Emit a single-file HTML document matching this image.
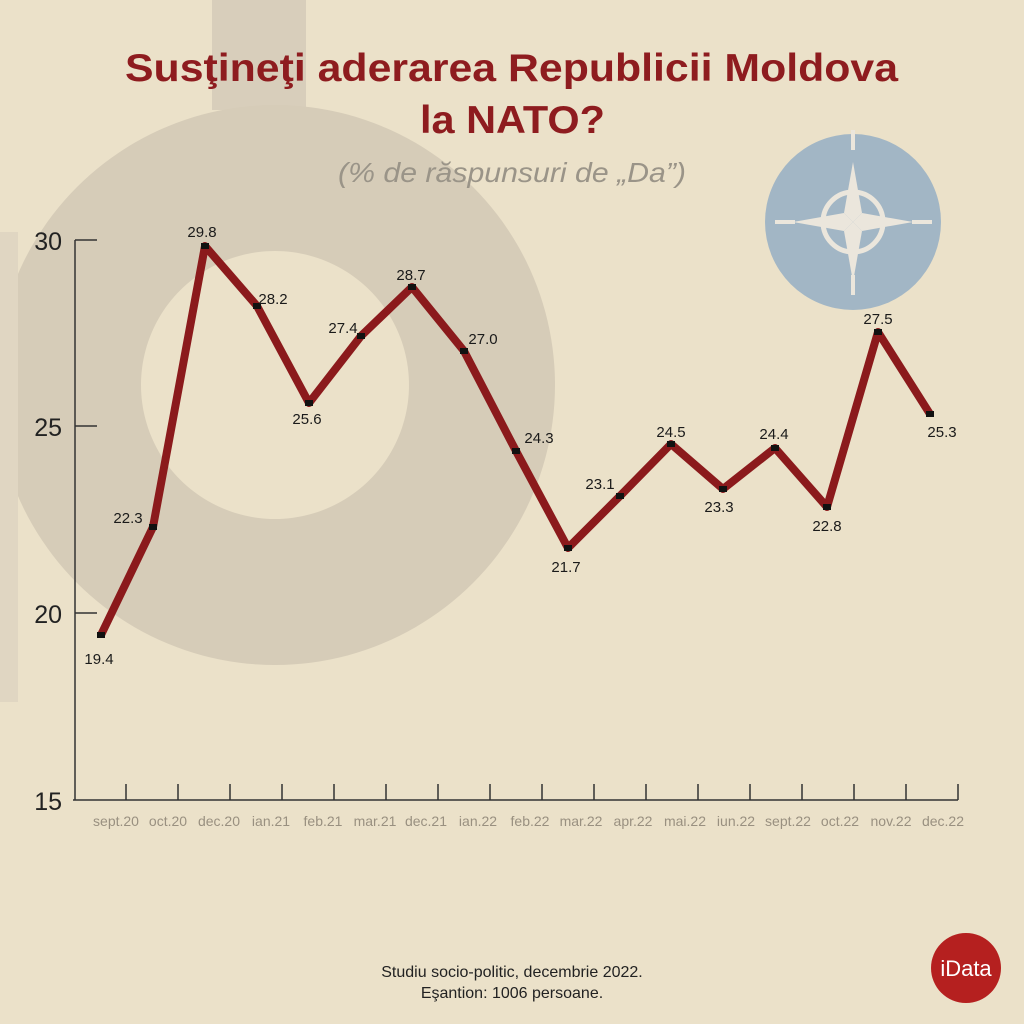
<!DOCTYPE html>
<html><head><meta charset="utf-8"><style>
html,body{margin:0;padding:0;background:#ebe1c9;}
svg{display:block;}
text{font-family:"Liberation Sans",sans-serif;}
</style></head><body>
<svg width="1024" height="1024" viewBox="0 0 1024 1024" xmlns="http://www.w3.org/2000/svg">
<rect width="1024" height="1024" fill="#ebe1c9"/>
<rect x="212" y="0" width="94" height="110" fill="#d8cebb"/>
<path d="M275 105 A280 280 0 1 0 275.01 105 Z M275 251 A134 134 0 1 1 274.99 251 Z" fill="#d6ccb8" fill-rule="evenodd"/>
<rect x="0" y="232" width="18" height="470" fill="#e0d6c2"/>
<text x="125" y="81" textLength="773" lengthAdjust="spacingAndGlyphs" font-size="39" font-weight="bold" fill="#8e1c1f">Susţineţi aderarea Republicii Moldova</text>
<text x="420" y="133" textLength="185" lengthAdjust="spacingAndGlyphs" font-size="39" font-weight="bold" fill="#8e1c1f">la NATO?</text>
<text x="338" y="182" textLength="348" lengthAdjust="spacingAndGlyphs" font-size="28" font-style="italic" fill="#9a9488">(% de răspunsuri de „Da”)</text>
<circle cx="853" cy="222" r="88" fill="#a2b6c5"/>
<g fill="#ebe6dc" stroke="none">
<polygon points="853,162 862,213 853,222 844,213"/>
<polygon points="853,282 862,231 853,222 844,231"/>
<polygon points="793,222 844,213 853,222 844,231"/>
<polygon points="913,222 862,213 853,222 862,231"/>
<circle cx="853" cy="222" r="30" fill="none" stroke="#ebe6dc" stroke-width="5"/>
<rect x="851" y="130" width="4" height="20"/><rect x="851" y="275" width="4" height="20"/>
<rect x="775" y="220" width="20" height="4"/><rect x="912" y="220" width="20" height="4"/>
</g>
<g stroke="#333" stroke-width="1.5" fill="none">
<line x1="75" y1="240" x2="75" y2="800"/>
<line x1="75" y1="240" x2="97" y2="240"/>
<line x1="75" y1="426" x2="97" y2="426"/>
<line x1="75" y1="613" x2="97" y2="613"/>
<line x1="73" y1="800" x2="958" y2="800"/>
<path d="M126 800V784M178 800V784M230 800V784M282 800V784M334 800V784M386 800V784M438 800V784M490 800V784M542 800V784M594 800V784M646 800V784M698 800V784M750 800V784M802 800V784M854 800V784M906 800V784M958 800V784"/>
</g>
<g font-size="25" fill="#222" text-anchor="end">
<text x="62" y="250">30</text><text x="62" y="436">25</text><text x="62" y="623">20</text><text x="62" y="810">15</text>
</g>
<g font-size="14" fill="#999080" text-anchor="middle">
<text x="116" y="826">sept.20</text><text x="168" y="826">oct.20</text><text x="219" y="826">dec.20</text><text x="271" y="826">ian.21</text><text x="323" y="826">feb.21</text><text x="375" y="826">mar.21</text><text x="426" y="826">dec.21</text><text x="478" y="826">ian.22</text><text x="530" y="826">feb.22</text><text x="581" y="826">mar.22</text><text x="633" y="826">apr.22</text><text x="685" y="826">mai.22</text><text x="736" y="826">iun.22</text><text x="788" y="826">sept.22</text><text x="840" y="826">oct.22</text><text x="891" y="826">nov.22</text><text x="943" y="826">dec.22</text>
</g>
<polyline fill="none" stroke="#8b1a1c" stroke-width="8" stroke-linejoin="round" points="101,635 153,527 205,246 257,306 309,403 361,336 412,287 464,351 516,451 568,548 620,496 671,444 723,489 775,448 827,507 878,332 930,414"/>
<g fill="#111">
<rect x="97" y="632" width="8" height="6"/><rect x="149" y="524" width="8" height="6"/><rect x="201" y="243" width="8" height="6"/><rect x="253" y="303" width="8" height="6"/><rect x="305" y="400" width="8" height="6"/><rect x="357" y="333" width="8" height="6"/><rect x="408" y="284" width="8" height="6"/><rect x="460" y="348" width="8" height="6"/><rect x="512" y="448" width="8" height="6"/><rect x="564" y="545" width="8" height="6"/><rect x="616" y="493" width="8" height="6"/><rect x="667" y="441" width="8" height="6"/><rect x="719" y="486" width="8" height="6"/><rect x="771" y="445" width="8" height="6"/><rect x="823" y="504" width="8" height="6"/><rect x="874" y="329" width="8" height="6"/><rect x="926" y="411" width="8" height="6"/>
</g>
<g font-size="15" fill="#1a1a1a" text-anchor="middle">
<text x="99" y="664">19.4</text><text x="128" y="523">22.3</text><text x="202" y="237">29.8</text><text x="273" y="304">28.2</text><text x="307" y="424">25.6</text><text x="343" y="333">27.4</text><text x="411" y="280">28.7</text><text x="483" y="344">27.0</text><text x="539" y="443">24.3</text><text x="566" y="572">21.7</text><text x="600" y="489">23.1</text><text x="671" y="437">24.5</text><text x="719" y="512">23.3</text><text x="774" y="439">24.4</text><text x="827" y="531">22.8</text><text x="878" y="324">27.5</text><text x="942" y="437">25.3</text>
</g>
<text x="512" y="977" text-anchor="middle" font-size="16" fill="#222">Studiu socio-politic, decembrie 2022.</text>
<text x="512" y="998" text-anchor="middle" font-size="16" fill="#222">Eşantion: 1006 persoane.</text>
<circle cx="966" cy="968" r="35" fill="#b5201f"/>
<text x="966" y="976" text-anchor="middle" font-size="22" fill="#fff">iData</text>
</svg>
</body></html>
